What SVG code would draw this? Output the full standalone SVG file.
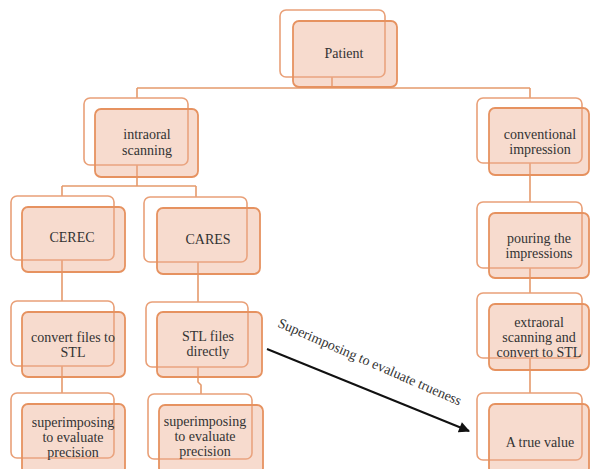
<svg xmlns="http://www.w3.org/2000/svg" width="590" height="469" viewBox="0 0 590 469">
<defs>
<style>
.back{fill:#ffffff;stroke:#E9A078;stroke-width:1.6}
.front{fill:#ECA98A;fill-opacity:0.42;stroke:#E69260;stroke-width:1.8}
.conn{fill:none;stroke:#E59A6C;stroke-width:1.6}
text{font-family:"Liberation Serif","Times New Roman",serif;font-size:14px;fill:#333333;text-anchor:middle}
</style>
<marker id="ah" viewBox="0 0 10 10" refX="9" refY="5" markerWidth="12" markerHeight="11" orient="auto" markerUnits="userSpaceOnUse">
<path d="M0,0 L10,5 L0,10 z" fill="#111"/>
</marker>
</defs>
<rect width="590" height="469" fill="#ffffff"/>
<g id="connectors">
<path class="conn" d="M332,77 V88 M137,88 H530 M137,88 V98 M530,88 V98"/>
<path class="conn" d="M137,165 V186 M62,186 H196 M62,186 V196 M196,186 V197"/>
<path class="conn" d="M62,260 V301 M62,366 V393"/>
<path class="conn" d="M198,262 V302 M198,367 V382 L201,385 V394"/>
<path class="conn" d="M530,163 V202 M530,268 V293 M530,358 V393"/>
<line x1="267" y1="349" x2="469" y2="431" stroke="#111" stroke-width="2" marker-end="url(#ah)"/>
<text transform="translate(368,366) rotate(23.5)" font-size="14px">Superimposing to evaluate trueness</text>
</g>
<g id="patient">
<rect class="back" x="280" y="10" width="105" height="67" rx="6"/>
<rect class="front" x="293" y="21" width="104" height="66" rx="6"/>
<text x="344" y="58">Patient</text>
</g>
<g id="intraoral">
<rect class="back" x="84" y="98" width="104" height="67" rx="6"/>
<rect class="front" x="95" y="109" width="103" height="68" rx="6"/>
<text x="147" y="139">intraoral</text>
<text x="147" y="155">scanning</text>
</g>
<g id="conventional">
<rect class="back" x="477" y="98" width="105" height="65" rx="6"/>
<rect class="front" x="489" y="108" width="100" height="67" rx="6"/>
<text x="540" y="139">conventional</text>
<text x="540" y="154">impression</text>
</g>
<g id="cerec">
<rect class="back" x="11" y="196" width="103" height="64" rx="6"/>
<rect class="front" x="22" y="207" width="103" height="65" rx="6"/>
<text x="72" y="242">CEREC</text>
</g>
<g id="cares">
<rect class="back" x="144" y="197" width="103" height="65" rx="6"/>
<rect class="front" x="157" y="208" width="103" height="66" rx="6"/>
<text x="208" y="244">CARES</text>
</g>
<g id="convert">
<rect class="back" x="11" y="301" width="103" height="65" rx="6"/>
<rect class="front" x="22" y="312" width="103" height="65" rx="6"/>
<text x="73" y="342">convert files to</text>
<text x="73" y="357">STL</text>
</g>
<g id="stl">
<rect class="back" x="146" y="302" width="102" height="65" rx="6"/>
<rect class="front" x="157" y="312" width="105" height="65" rx="6"/>
<text x="208" y="341">STL files</text>
<text x="208" y="356">directly</text>
</g>
<g id="super1">
<rect class="back" x="11" y="393" width="103" height="65" rx="6"/>
<rect class="front" x="22" y="404" width="103" height="70" rx="6"/>
<text x="73" y="427">superimposing</text>
<text x="73" y="442">to evaluate</text>
<text x="73" y="457">precision</text>
</g>
<g id="super2">
<rect class="back" x="148" y="394" width="104" height="65" rx="6"/>
<rect class="front" x="159" y="405" width="104" height="69" rx="6"/>
<text x="205" y="426">superimposing</text>
<text x="205" y="441">to evaluate</text>
<text x="205" y="456">precision</text>
</g>
<g id="pouring">
<rect class="back" x="477" y="202" width="105" height="66" rx="6"/>
<rect class="front" x="489" y="213" width="100" height="65" rx="6"/>
<text x="539" y="243">pouring the</text>
<text x="539" y="258">impressions</text>
</g>
<g id="extraoral">
<rect class="back" x="477" y="293" width="105" height="65" rx="6"/>
<rect class="front" x="489" y="304" width="100" height="66" rx="6"/>
<text x="539" y="327">extraoral</text>
<text x="539" y="342">scanning and</text>
<text x="539" y="357">convert to STL</text>
</g>
<g id="truevalue">
<rect class="back" x="477" y="393" width="105" height="67" rx="6"/>
<rect class="front" x="489" y="404" width="100" height="70" rx="6"/>
<text x="540" y="447">A true value</text>
</g>
</svg>
